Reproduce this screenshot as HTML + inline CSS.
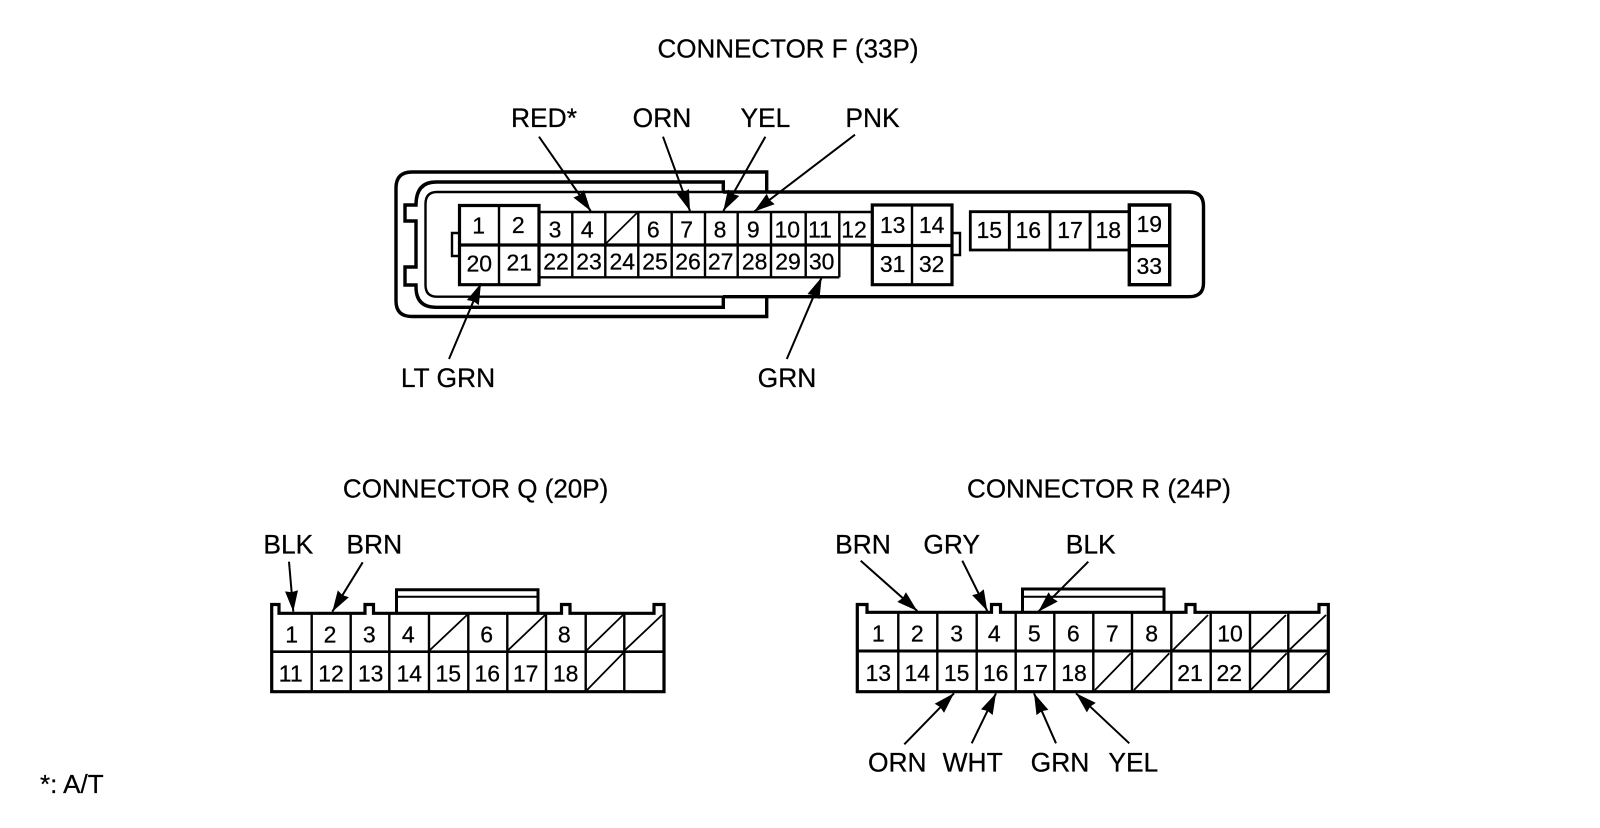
<!DOCTYPE html>
<html><head><meta charset="utf-8"><style>
html,body{margin:0;padding:0;background:#fff;width:1600px;height:828px;overflow:hidden}
svg{display:block}
text{font-family:"Liberation Sans",Arial,sans-serif;fill:#000;stroke:#000;stroke-width:.25}
.p{font-size:23px;text-anchor:middle}
.l{font-size:26.4px;text-anchor:middle}
.t{font-size:26px;text-anchor:middle}
.a{stroke:#000;stroke-width:2;fill:none;marker-end:url(#h)}
</style></head><body>
<svg width="1600" height="828" viewBox="0 0 1600 828" xmlns="http://www.w3.org/2000/svg">
<defs><marker id="h" markerUnits="userSpaceOnUse" markerWidth="24" markerHeight="14" refX="21" refY="6.5" orient="auto"><path d="M0,0 L21,6.5 L0,13 L1.5,6.5 Z" fill="#000"/></marker></defs>
<rect width="1600" height="828" fill="#fff"/>

<g fill="none" stroke="#000" stroke-linejoin="miter">
<path stroke-width="3.4" d="M766.7,192V172H412Q396,172 396,188V301Q396,316.5 412,316.5H766.7V297"/>
<path stroke-width="3.4" d="M723.3,192V182H436Q416,182 416,205V205H405V221H416V267H405V285H416V287Q416,307.3 436,307.3H723.3V297"/>
<path stroke-width="2.4" d="M723,192H437Q425.5,192 425.5,204V285Q425.5,296.7 437,296.7H723"/>
<path stroke-width="3.4" d="M723,192H1189Q1203.5,192 1203.5,206V283Q1203.5,296.7 1189,296.7H723"/>

<path stroke-width="3.2" d="M459.5,205.5H539V284.7H459.5ZM459.5,245H872"/>
<path stroke-width="2.4" d="M499,205.5V284.7M539,212H872M539,277.3H839.3"/>
<path stroke-width="2.4" d="M572.3,212V277.3M605.3,212V277.3M638.3,212V277.3M671.7,212V277.3M705,212V277.3M737.7,212V277.3M771,212V277.3M805.7,212V277.3M839.3,212V277.3"/>
<path stroke-width="1.7" d="M605.5,244L637.5,212.5"/>
<path stroke-width="2.4" d="M459,233H452V256H459M952,233H960V255H952"/>
<path stroke-width="3.2" d="M872.3,205H952V284.7H872.3ZM872.3,245.5H952"/>
<path stroke-width="2.4" d="M912,205V284.7"/>
<path stroke-width="2.8" d="M1129.3,211.7H970.3V250H1129.3M1009.3,211.7V250M1050,211.7V250M1090,211.7V250"/>
<path stroke-width="3.4" d="M1129.3,205H1169.7V284.7H1129.3ZM1129.3,245.7H1169.7"/>

<!-- Connector Q -->
<path stroke-width="3.2" d="M271.7,613V691.7H664V604.5H654V613.3H570V604.5H561.5V613.3H373.5V604.5H365V613.3H279V604.5H271.7V613"/>
<path stroke-width="3" d="M396.5,613.3V589.8H538V613.3"/>
<path stroke-width="2" d="M396.5,596.7H538"/>
<path stroke-width="2.6" d="M271.7,651.7H664"/>
<path stroke-width="2.4" d="M311.7,613V691.7M350.7,613V691.7M389.3,613V691.7M429,613V691.7M468.3,613V691.7M507.3,613V691.7M546,613V691.7M585.7,613V691.7M624.3,613V691.7"/>
<path stroke-width="1.8" d="M430,650L467,615M508.3,650L545,615M587,650L623,615M625,650L662,615M587,690L623,653.3"/>

<!-- Connector R -->
<path stroke-width="3.2" d="M857.3,612V691.7H1328.3V604.5H1319V612.3H1195V604.5H1186V612.3H1000.5V604.5H991.5V612.3H867V604.5H857.3V612"/>
<path stroke-width="3" d="M1022.5,612.3V589H1164V612.3"/>
<path stroke-width="2" d="M1022.5,596.7H1164"/>
<path stroke-width="3" d="M857.3,651H1328.3"/>
<path stroke-width="2.4" d="M898.3,612V691.7M937.3,612V691.7M976.7,612V691.7M1015.7,612V691.7M1054.3,612V691.7M1093.3,612V691.7M1132,612V691.7M1171.3,612V691.7M1210.7,612V691.7M1250,612V691.7M1288.3,612V691.7"/>
<path stroke-width="1.8" d="M1173,650L1208,615M1250.7,649.3L1286,615M1290,649.3L1326,615M1095,690L1130.7,653.3M1134,690L1169.3,653.3M1250.7,690L1286.7,653.3M1290,690L1326.7,653.3"/>
</g>

<!-- Arrows -->
<line class="a" x1="539" y1="136.7" x2="590.7" y2="211"/>
<line class="a" x1="663" y1="136.7" x2="690" y2="211"/>
<line class="a" x1="765.4" y1="136.7" x2="723.3" y2="211"/>
<line class="a" x1="855" y1="134.7" x2="754" y2="211.7"/>
<line class="a" x1="449" y1="359" x2="481" y2="283.3"/>
<line class="a" x1="786.8" y1="359" x2="821.7" y2="277.3"/>
<line class="a" x1="289" y1="561.7" x2="293.3" y2="611.7"/>
<line class="a" x1="362.7" y1="562.3" x2="332.3" y2="611.7"/>
<line class="a" x1="860.7" y1="560.7" x2="917.3" y2="611"/>
<line class="a" x1="962.3" y1="560.7" x2="987.3" y2="611"/>
<line class="a" x1="1088.3" y1="561.7" x2="1038.3" y2="611.7"/>
<line class="a" x1="904.3" y1="744.3" x2="954" y2="693.3"/>
<line class="a" x1="971.7" y1="743.3" x2="996" y2="693.3"/>
<line class="a" x1="1056" y1="743.3" x2="1034" y2="693.3"/>
<line class="a" x1="1129.3" y1="743.3" x2="1076" y2="693.3"/>

<!-- Titles and labels -->
<text class="t" x="788" y="57.5">CONNECTOR F (33P)</text>
<text class="t" x="475.6" y="497.5">CONNECTOR Q (20P)</text>
<text class="t" x="1099" y="497.5">CONNECTOR R (24P)</text>
<text class="l" x="544" y="127">RED*</text>
<text class="l" x="662" y="127">ORN</text>
<text class="l" x="765.4" y="127">YEL</text>
<text class="l" x="872.5" y="127">PNK</text>
<text class="l" x="448" y="387">LT GRN</text>
<text class="l" x="787" y="387">GRN</text>
<text class="l" x="288.3" y="553.3">BLK</text>
<text class="l" x="374.3" y="553.3">BRN</text>
<text class="l" x="863" y="553.3">BRN</text>
<text class="l" x="951.7" y="553.3">GRY</text>
<text class="l" x="1090.7" y="553.3">BLK</text>
<text class="l" x="897.3" y="771.7">ORN</text>
<text class="l" x="972.7" y="771.7">WHT</text>
<text class="l" x="1060" y="771.7">GRN</text>
<text class="l" x="1133.3" y="771.7">YEL</text>
<text x="40" y="793" font-size="26">*: A/T</text>

<!-- F pins -->
<text class="p" x="478.7" y="233.5">1</text>
<text class="p" x="518.3" y="233">2</text>
<text class="p" x="555" y="237.5">3</text>
<text class="p" x="587.3" y="237.5">4</text>
<text class="p" x="653.3" y="237.5">6</text>
<text class="p" x="686.7" y="237.5">7</text>
<text class="p" x="720" y="237.5">8</text>
<text class="p" x="753.3" y="237.5">9</text>
<text class="p" x="787.3" y="237.5">10</text>
<text class="p" x="820" y="237.5">11</text>
<text class="p" x="854" y="237.5">12</text>
<text class="p" x="479.3" y="271.7">20</text>
<text class="p" x="519.3" y="270.7">21</text>
<text class="p" x="556" y="269.3">22</text>
<text class="p" x="589" y="269.3">23</text>
<text class="p" x="622.3" y="269.3">24</text>
<text class="p" x="655" y="269.3">25</text>
<text class="p" x="688" y="269.3">26</text>
<text class="p" x="720.7" y="269.3">27</text>
<text class="p" x="754.7" y="269.3">28</text>
<text class="p" x="788" y="269.3">29</text>
<text class="p" x="821.7" y="269.3">30</text>
<text class="p" x="892.7" y="233">13</text>
<text class="p" x="931.7" y="233">14</text>
<text class="p" x="892.7" y="272">31</text>
<text class="p" x="931.7" y="272">32</text>
<text class="p" x="989.3" y="238">15</text>
<text class="p" x="1028.3" y="238">16</text>
<text class="p" x="1070" y="238">17</text>
<text class="p" x="1108.3" y="238">18</text>
<text class="p" x="1149.3" y="232">19</text>
<text class="p" x="1149.3" y="274">33</text>

<!-- Q pins -->
<text class="p" x="291.7" y="642.7">1</text>
<text class="p" x="330" y="642.7">2</text>
<text class="p" x="369.3" y="642.7">3</text>
<text class="p" x="408.3" y="642.7">4</text>
<text class="p" x="486.7" y="642.7">6</text>
<text class="p" x="564.3" y="642.7">8</text>
<text class="p" x="290.7" y="681.7">11</text>
<text class="p" x="331" y="681.7">12</text>
<text class="p" x="370.7" y="681.7">13</text>
<text class="p" x="409.3" y="681.7">14</text>
<text class="p" x="448.3" y="681.7">15</text>
<text class="p" x="487.3" y="681.7">16</text>
<text class="p" x="525.7" y="681.7">17</text>
<text class="p" x="565.7" y="681.7">18</text>

<!-- R pins -->
<text class="p" x="878.3" y="641.7">1</text>
<text class="p" x="917.3" y="641.7">2</text>
<text class="p" x="956.7" y="641.7">3</text>
<text class="p" x="994.3" y="641.7">4</text>
<text class="p" x="1034.3" y="641.7">5</text>
<text class="p" x="1073.3" y="641.7">6</text>
<text class="p" x="1112.3" y="641.7">7</text>
<text class="p" x="1151.7" y="641.7">8</text>
<text class="p" x="1230" y="641.7">10</text>
<text class="p" x="878.3" y="681">13</text>
<text class="p" x="917.3" y="681">14</text>
<text class="p" x="956.7" y="681">15</text>
<text class="p" x="995.7" y="681">16</text>
<text class="p" x="1035" y="681">17</text>
<text class="p" x="1074" y="681">18</text>
<text class="p" x="1190" y="681">21</text>
<text class="p" x="1229.3" y="681">22</text>
</svg>
</body></html>
